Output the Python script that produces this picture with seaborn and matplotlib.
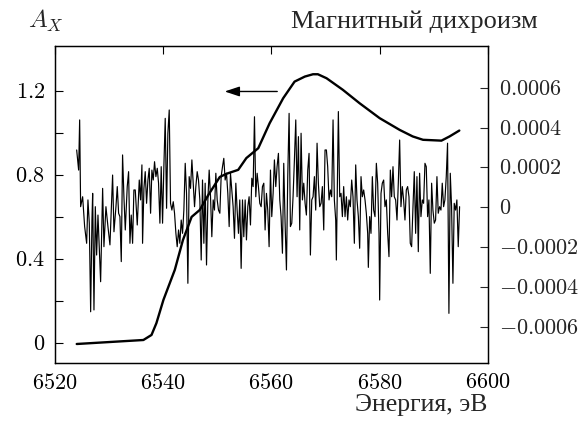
import numpy as np
import pandas as pd
import matplotlib
matplotlib.use("Agg")
import matplotlib.pyplot as plt
import seaborn as sns

# ---- data -------------------------------------------------------------
# absorption A_X (left axis)
abs_energy = [6524.1, 6536.4, 6537.9, 6538.8, 6540.1, 6542.2, 6543.7, 6545.3,
              6546.8, 6548.4, 6550.5, 6551.7, 6553.9, 6555.4, 6557.6, 6559.7,
              6562.2, 6564.3, 6566.2, 6567.7, 6568.6, 6570.2, 6573.2, 6576.3,
              6580.0, 6583.7, 6586.1, 6588.0, 6591.4, 6592.9, 6594.7]
abs_value = [-0.005, 0.014, 0.038, 0.094, 0.205, 0.348, 0.49, 0.60,
             0.633, 0.705, 0.79, 0.805, 0.824, 0.88, 0.927, 1.046,
             1.165, 1.244, 1.268, 1.279, 1.279, 1.26, 1.205, 1.141,
             1.07, 1.014, 0.983, 0.967, 0.963, 0.983, 1.011]

# magnetic dichroism (right axis), in units of 1e-4
mcd_energy = [
    6524.09, 6524.45, 6524.64, 6524.82, 6525.19, 6525.56, 6525.93, 6526.17, 6526.42, 6526.67,
    6526.91, 6527.04, 6527.28, 6527.53, 6527.77, 6528.02, 6528.26, 6528.51, 6528.88, 6529.12,
    6529.49, 6529.86, 6530.23, 6530.72, 6530.97, 6531.34, 6531.58, 6531.83, 6532.07, 6532.32,
    6532.56, 6532.81, 6533.06, 6533.42, 6533.67, 6533.92, 6534.16, 6534.41, 6534.65, 6534.90,
    6535.27, 6535.64,
    6535.88, 6536.13, 6536.25, 6536.50, 6536.74, 6536.99, 6537.24, 6537.48, 6537.73, 6537.97,
    6538.22, 6538.46, 6538.71, 6538.96, 6539.20, 6539.45, 6539.69, 6539.94, 6540.18, 6540.43,
    6540.68, 6540.92, 6541.17, 6541.41, 6541.66, 6541.91, 6542.15, 6542.40, 6542.64, 6542.89,
    6543.13, 6543.38, 6543.63, 6543.87, 6544.12, 6544.36, 6544.61, 6544.85, 6545.10, 6545.35,
    6545.59, 6545.84, 6546.08, 6546.33, 6546.57, 6546.82, 6547.07, 6547.31,
    6547.56, 6547.80, 6548.05, 6548.30, 6548.54, 6548.79, 6549.03, 6549.28, 6549.52, 6549.77,
    6550.02, 6550.26, 6550.51, 6550.75, 6551.00, 6551.24, 6551.49, 6551.74, 6551.98, 6552.23,
    6552.47, 6552.72, 6552.96, 6553.21, 6553.46, 6553.70, 6553.95, 6554.19, 6554.44, 6554.69,
    6554.93, 6555.18, 6555.42, 6555.67, 6555.91, 6556.16, 6556.41, 6556.65, 6556.90, 6557.14,
    6557.39, 6557.63, 6557.88, 6558.13, 6558.37, 6558.62, 6558.86, 6559.11,
    6559.35, 6559.60, 6559.85, 6560.09, 6560.34, 6560.58, 6560.83, 6561.07, 6561.32, 6561.57,
    6561.81, 6562.06, 6562.30, 6562.55, 6562.80, 6563.04, 6563.29, 6563.53, 6563.78, 6564.02,
    6564.27, 6564.52, 6564.76, 6565.01, 6565.25, 6565.50, 6565.75, 6565.99, 6566.24, 6566.48,
    6566.73, 6566.97, 6567.22, 6567.47, 6567.71, 6567.96, 6568.20, 6568.45, 6568.69, 6568.94,
    6569.19, 6569.43, 6569.68, 6569.92, 6570.17, 6570.41, 6570.66, 6570.91,
    6571.15, 6571.40, 6571.64, 6571.89, 6572.01, 6572.38, 6572.63, 6572.87, 6573.12, 6573.36,
    6573.61, 6573.86, 6574.10, 6574.35, 6574.59, 6574.84, 6575.08, 6575.33, 6575.58, 6575.82,
    6576.07, 6576.31, 6576.56, 6576.80, 6577.05, 6577.30, 6577.54, 6577.79, 6577.91, 6578.16,
    6578.40, 6578.65, 6578.89, 6579.14, 6579.39, 6579.63, 6579.88, 6580.00, 6580.25, 6580.49,
    6580.74, 6580.98, 6581.23, 6581.48, 6581.72, 6581.97, 6582.21, 6582.46, 6582.70,
    6582.95, 6583.20, 6583.44, 6583.69, 6583.93, 6584.18, 6584.42, 6584.67, 6584.92, 6585.16,
    6585.41, 6585.65, 6585.90, 6586.15, 6586.39, 6586.64, 6586.88, 6587.13, 6587.37, 6587.62,
    6587.87, 6588.11, 6588.36, 6588.60, 6588.85, 6589.09, 6589.34, 6589.59, 6589.83, 6590.08,
    6590.32, 6590.57, 6590.81, 6591.06, 6591.31, 6591.55, 6591.80, 6592.04, 6592.29, 6592.53,
    6592.78, 6593.03, 6593.27, 6593.52, 6593.76, 6594.01, 6594.25, 6594.50, 6594.75]
mcd_value_e4 = [
    2.88, 1.87, 4.39, 0.03, 0.53, -0.97, -1.81, 0.37, -0.80, -5.25,
    -0.64, 0.70, -5.16, 0.03, -2.40, -0.39, -1.98, -3.74, 0.95, -1.98,
    0.03, -0.97, -1.89, 1.62, -1.23, 0.03, 1.04, -0.30, -0.47, -2.73,
    2.63, 0.53, -1.14, 1.04, 1.79, -1.81, -0.39, -1.81, 0.87, 0.87,
    -0.89, 1.37,
    0.37, 2.13, -1.81, 0.95, 1.79, 0.20, 1.37, 1.96, -0.30, 1.87,
    1.37, 2.29, 1.54, 1.96, 1.21, -0.80, 2.04, -0.80, 2.04, 4.47,
    -0.05, 3.72, 4.89, 0.20, -0.14, 0.28, -0.30, -1.31, -1.98, -1.14,
    -1.81, -0.64, -1.31, -0.14, 2.21, 0.70, -3.82, 1.54, 0.95, 2.38,
    1.21, 0.03, 1.04, 1.79, 1.37, 0.37, -2.65, 1.37,
    -1.81, 1.21, -2.90, 0.37, 1.87, 0.53, -1.48, 0.37, -0.14, 1.71,
    0.37, -0.14, -0.30, 1.54, 2.04, 2.46, 1.37, 1.71, 0.70, -0.97,
    1.71, 0.87, 0.03, -1.56, 1.21, -0.14, -1.31, 0.37, -3.07, 0.37,
    -1.48, 0.37, -1.64, 0.03, 0.53, -0.89, 1.46, 1.04, 4.55, 0.53,
    1.71, 1.04, 0.20, 0.03, 1.04, 1.21, -1.14, 0.70,
    -0.14, -1.98, 1.87, -0.47, 0.70, 2.38, 1.04, 2.04, 2.71, 0.37,
    -0.47, -2.31, 2.21, -0.80, -3.15, 1.54, 4.72, -0.97, -0.80, 0.53,
    2.38, 4.39, 0.53, 3.55, -1.14, 3.72, 0.37, 1.21, 0.20, -0.39,
    1.87, 2.71, -2.40, 0.37, 0.53, 1.54, -0.14, 3.22, 1.21, 0.03,
    0.20, 1.04, -1.14, 2.88, 2.88, 2.04, 0.37, 0.87,
    0.53, 4.39, 0.37, -0.64, -2.65, 4.81, 0.53, 0.70, -0.47, 1.04,
    -0.47, 0.53, -0.64, 0.37, 0.03, 1.37, 0.53, -1.81, 2.13, 0.37,
    -0.47, -2.06, 1.54, 0.53, 0.87, 0.37, -0.30, -1.31, -3.02, -0.47,
    -1.31, 1.54, -0.14, -0.47, 2.21, 1.21, -1.31, -4.66, 0.70, 1.21,
    1.37, 0.03, 0.37, -1.31, -2.48, 1.87, 0.53, 2.04, 0.53,
    0.37, -0.64, 1.21, 3.38, 0.03, 1.04, 0.37, -0.64, 0.87, 1.04,
    0.53, -1.81, -1.98, 0.03, 1.79, -1.31, 1.54, -2.23, 1.71, -0.47,
    0.37, 0.20, 2.21, 2.04, -0.47, 0.37, -3.32, 1.21, -0.14, -0.80,
    -0.64, 1.54, -0.30, 0.03, -0.14, 1.21, 0.03, 0.37, 1.54, 3.22,
    -5.33, 1.71, 0.03, -3.82, 0.20, -0.14, 0.37, -1.98, 0.03]

x_ticks = [6520, 6540, 6560, 6580, 6600]
x_ticklabels = ["6520", "6540", "6560", "6580", "6600"]
left_ticks = [0, 0.4, 0.8, 1.2]
left_ticklabels = ["0", "0.4", "0.8", "1.2"]
left_minor = [0.2, 0.6, 1.0]
right_ticks = [-0.0006, -0.0004, -0.0002, 0, 0.0002, 0.0004, 0.0006]
right_ticklabels = ["-0.0006", "-0.0004", "-0.0002", "0", "0.0002", "0.0004", "0.0006"]

arrow_tail = (6561.1, 1.197)
arrow_head = (6551.4, 1.197)

# ---- plot -------------------------------------------------------------
sns.set_style("white")
plt.rcParams["mathtext.fontset"] = "cm"
plt.rcParams["font.family"] = ["Liberation Serif", "DejaVu Serif"]

df_abs = pd.DataFrame({"E": abs_energy, "A": abs_value})
df_mcd = pd.DataFrame({"E": mcd_energy, "D": np.array(mcd_value_e4) * 1e-4})

fig = plt.figure(figsize=(5.88, 4.21), dpi=100)
ax = fig.add_axes([0.0927, 0.138, 0.7373, 0.753])
ax2 = ax.twinx()

sns.lineplot(data=df_abs, x="E", y="A", ax=ax, color="black", lw=1.7,
             estimator=None, sort=False)
sns.lineplot(data=df_mcd, x="E", y="D", ax=ax2, color="black", lw=0.85,
             estimator=None, sort=False)

ax.set_xlim(6520, 6600)
ax.set_ylim(-0.095, 1.414)
ax2.set_ylim(-0.000782, 0.000811)

fs = 16
ax.set_xticks(x_ticks, [f"${t}$" for t in x_ticklabels])
ax.set_yticks(left_ticks, [f"${t}$" for t in left_ticklabels])
ax.set_yticks(left_minor, minor=True)
ax2.set_yticks(right_ticks, [f"${t}$" for t in right_ticklabels])

ax.tick_params(axis="both", which="both", direction="in", length=5.5, width=0.8,
               labelsize=fs, top=True, colors="black")
ax.tick_params(axis="x", pad=8)
ax.tick_params(axis="y", pad=7)
ax2.tick_params(axis="y", direction="in", length=5.5, width=0.8, labelsize=fs, pad=8)

ax.set_xlabel("")
ax.set_ylabel("")
ax2.set_ylabel("")

for a in (ax, ax2):
    for s in a.spines.values():
        s.set_color("black")
        s.set_linewidth(0.9)

ax.annotate("", xy=arrow_head, xytext=arrow_tail,
            arrowprops=dict(arrowstyle="-|>,head_length=0.9,head_width=0.3",
                            color="black", lw=1.0, shrinkA=0, shrinkB=0))

ax.text(-0.06, 1.057, r"$A_X$", transform=ax.transAxes, fontsize=18,
        ha="left", va="baseline")
ax.text(1.115, 1.057, "Магнитный дихроизм", transform=ax.transAxes,
        fontsize=19, ha="right", va="baseline")
ax.text(0.998, -0.152, "Энергия, эВ", transform=ax.transAxes,
        fontsize=18.5, ha="right", va="baseline")

fig.savefig("out.png", dpi=100)
